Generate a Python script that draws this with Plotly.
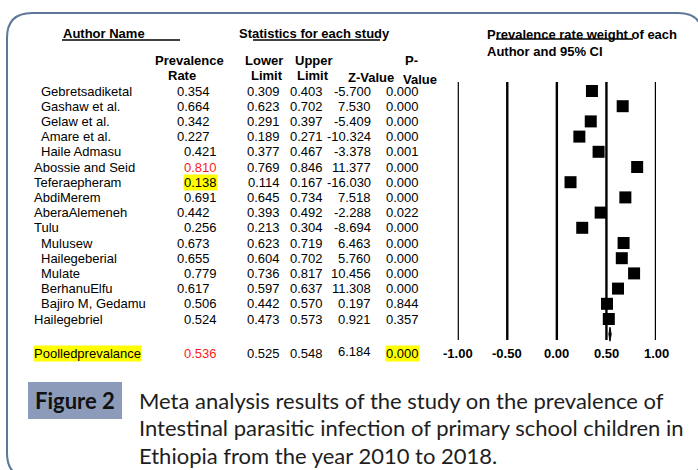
import plotly.graph_objects as go

# ---------------- data ----------------
authors = ["Gebretsadiketal", "Gashaw et al.", "Gelaw et al.", "Amare et al.", "Haile Admasu",
           "Abossie and Seid", "Teferaepheram", "AbdiMerem", "AberaAlemeneh", "Tulu",
           "Mulusew", "Hailegeberial", "Mulate", "BerhanuElfu", "Bajiro M, Gedamu", "Hailegebriel"]
prevalence = [0.354, 0.664, 0.342, 0.227, 0.421, 0.810, 0.138, 0.691, 0.442, 0.256,
              0.673, 0.655, 0.779, 0.617, 0.506, 0.524]
lower_limit = [0.309, 0.623, 0.291, 0.189, 0.377, 0.769, 0.114, 0.645, 0.393, 0.213,
               0.623, 0.604, 0.736, 0.597, 0.442, 0.473]
upper_limit = [0.403, 0.702, 0.397, 0.271, 0.467, 0.846, 0.167, 0.734, 0.492, 0.304,
               0.719, 0.702, 0.817, 0.637, 0.570, 0.573]
z_value = [-5.700, 7.530, -5.409, -10.324, -3.378, 11.377, -16.030, 7.518, -2.288, -8.694,
           6.463, 5.760, 10.456, 11.308, 0.197, 0.921]
p_value = [0.000, 0.000, 0.000, 0.000, 0.001, 0.000, 0.000, 0.000, 0.022, 0.000,
           0.000, 0.000, 0.000, 0.000, 0.844, 0.357]

pooled_name = "Poolledprevalance"
pooled_prev = 0.536
pooled_lower = 0.525
pooled_upper = 0.548
pooled_z = 6.184
pooled_p = 0.000

tick_vals = [-1.0, -0.5, 0.0, 0.5, 1.0]
tick_labels = ["-1.00", "-0.50", "0.00", "0.50", "1.00"]

caption_lines = ["Meta analysis results of the study on the prevalence of",
                 "Intestinal parasitic infection of primary school children in",
                 "Ethiopia from the year 2010 to 2018."]

# ---------------- layout helpers (styling only) ----------------
name_indent = [1, 1, 1, 1, 1, 0, 0, 0, 0, 0, 1, 1, 1, 1, 1, 0]
prev_shift = [0, 0, 0, 0, 1, 1, 1, 1, 0, 1, 0, 0, 1, 0, 1, 1]
red_rows = [5]
yellow_rows = [6]

W, H = 698, 470
ROW0, ROWH = 91.0, 15.2  # pixel centre of first row, row height
n = len(authors)
pooled_row = n + 1.24
diamond_row = n + 0.0


def px2row(py):
    return (py - ROW0) / ROWH


FONT = "Liberation Sans, Arial, sans-serif"

fig = go.Figure()

# squares (prevalence rate) on forest axis
fig.add_trace(go.Scatter(
    x=prevalence, y=list(range(n)), mode="markers", xaxis="x2", yaxis="y",
    marker=dict(symbol="square", size=12, color="black", line=dict(width=0)),
    hoverinfo="skip", showlegend=False, cliponaxis=False))

# pooled diamond
dh = 0.46
fig.add_trace(go.Scatter(
    x=[pooled_lower, pooled_prev, pooled_upper, pooled_prev, pooled_lower],
    y=[diamond_row, diamond_row - dh, diamond_row, diamond_row + dh, diamond_row],
    mode="lines", fill="toself", fillcolor="black", line=dict(color="black", width=1),
    xaxis="x2", yaxis="y", hoverinfo="skip", showlegend=False))

shapes = []
annotations = []

# forest vertical lines
for tv in tick_vals:
    shapes.append(dict(type="line", xref="x2", yref="y", x0=tv, x1=tv,
                       y0=px2row(82), y1=px2row(340),
                       line=dict(color="black", width=2.4), layer="below"))

# forest tick labels
for tv, tl in zip(tick_vals, tick_labels):
    annotations.append(dict(x=tv, y=pooled_row, xref="x2", yref="y", text="<b>%s</b>" % tl,
                            showarrow=False, xanchor="center", yanchor="middle",
                            font=dict(family=FONT, size=13, color="black")))


def txt(x, y, t, anchor="left", color="black", size=13, bold=False, yref="y", bg=None):
    d = dict(x=x, y=y, xref="x", yref=yref, text=("<b>%s</b>" % t) if bold else t,
             showarrow=False, xanchor=anchor, yanchor="middle",
             font=dict(family=FONT, size=size, color=color), borderpad=0)
    if bg:
        d["bgcolor"] = bg
    annotations.append(d)


# table rows
for i in range(n):
    txt(40 if name_indent[i] else 33, i, authors[i])
    col = "#FF1A1A" if i in red_rows else "black"
    bg = "#FFFF00" if i in yellow_rows else None
    txt(218 if prev_shift[i] else 211, i, "%.3f" % prevalence[i], "right", color=col, bg=bg)
    txt(281, i, "%.3f" % lower_limit[i], "right")
    txt(324, i, "%.3f" % upper_limit[i], "right")
    txt(372, i, "%.3f" % z_value[i], "right")
    txt(420, i, "%.3f" % p_value[i], "right")

# pooled row
txt(33, pooled_row, pooled_name, bg="#FFFF00")
txt(218, pooled_row, "%.3f" % pooled_prev, "right", color="#FF1A1A")
txt(281, pooled_row, "%.3f" % pooled_lower, "right")
txt(324, pooled_row, "%.3f" % pooled_upper, "right")
txt(372, pooled_row - 0.08, "%.3f" % pooled_z, "right")
txt(420, pooled_row, "%.3f" % pooled_p, "right", bg="#FFFF00")

# headers (pixel coordinates via y2)
txt(62, 33, "Author Name", bold=True, yref="y2")
txt(238, 33, "Statistics for each study", bold=True, yref="y2")
txt(486, 34, "Prevalence rate weight of each", bold=True, yref="y2")
txt(486, 51, "Author and 95% CI", bold=True, yref="y2")
txt(189.5, 60, "Prevalence", "center", bold=True, yref="y2")
txt(182, 75, "Rate", "center", bold=True, yref="y2")
txt(284, 60, "Lower", "right", bold=True, yref="y2")
txt(284, 75, "Limit", "right", bold=True, yref="y2")
txt(294, 60, "Upper", "left", bold=True, yref="y2")
txt(296, 75, "Limit", "left", bold=True, yref="y2")
txt(347, 77, "Z-Value", "left", bold=True, yref="y2")
txt(404, 60, "P-", "left", bold=True, yref="y2")
txt(402, 79.5, "Value", "left", bold=True, yref="y2")

# header underlines
for x0, x1, yy in [(62, 180, 40), (253, 380, 40), (496, 633, 39)]:
    shapes.append(dict(type="line", xref="x", yref="y2", x0=x0, x1=x1, y0=yy, y1=yy,
                       line=dict(color="black", width=1.3)))

# outer rounded frame
shapes.append(dict(type="path", xref="x", yref="y2",
                   path="M 7,38 Q 7,13 32,13 L 678,13 Q 703,13 703,38 L 703,453 Q 703,478 678,478 "
                        "L 32,478 Q 7,478 7,453 Z",
                   line=dict(color="#5E7797", width=2), fillcolor="rgba(0,0,0,0)"))

# Figure 2 label box
shapes.append(dict(type="rect", xref="x", yref="y2", x0=28, x1=122, y0=382, y1=419,
                   fillcolor="#8C9BBA", line=dict(width=0)))
annotations.append(dict(x=75, y=400.5, xref="x", yref="y2", text="<b>Figure 2</b>", showarrow=False,
                        xanchor="center", yanchor="middle",
                        font=dict(family="Lato, sans-serif", size=22, color="#111111")))

# caption
for k, line in enumerate(caption_lines):
    annotations.append(dict(x=137, y=400 + 27.5 * k, xref="x", yref="y2", text=line, showarrow=False,
                            xanchor="left", yanchor="middle",
                            font=dict(family="Lato, sans-serif", size=22, color="#1E1E1E")))

fig.update_layout(
    width=W, height=H, margin=dict(l=0, r=0, t=0, b=0),
    paper_bgcolor="white", plot_bgcolor="rgba(0,0,0,0)",
    xaxis=dict(range=[0, W], domain=[0, 1], visible=False, fixedrange=True),
    yaxis=dict(range=[(H - ROW0) / ROWH, -ROW0 / ROWH], domain=[0, 1], visible=False),
    xaxis2=dict(range=[-1, 1], domain=[457.7 / W, 656.0 / W], anchor="y", visible=False),
    yaxis2=dict(range=[H, 0], domain=[0, 1], visible=False, overlaying="y", anchor="x"),
    shapes=shapes, annotations=annotations, showlegend=False,
)

fig.write_html("out.html", config={"displayModeBar": False},
               post_script="document.body.style.margin='0px';")
